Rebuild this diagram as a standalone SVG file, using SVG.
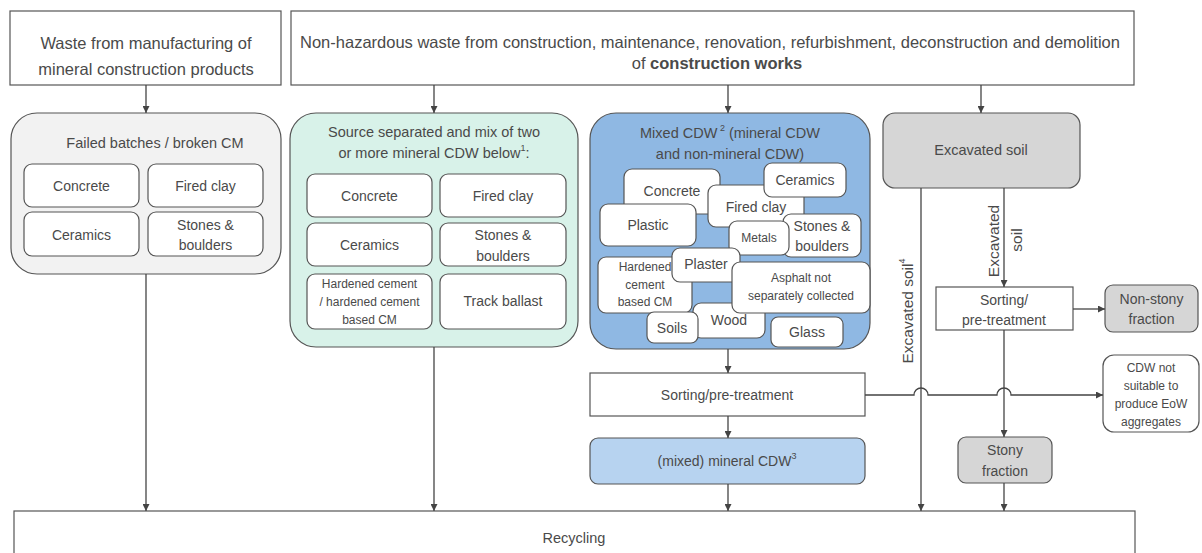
<svg xmlns="http://www.w3.org/2000/svg" width="1202" height="553" viewBox="0 0 1202 553">
<style>
text{font-family:"Liberation Sans",Arial,sans-serif;fill:#4a4a4a;text-anchor:middle;dominant-baseline:central}
.box{fill:#fff;stroke:#555;stroke-width:1.2}
.in{fill:#fff;stroke:#555;stroke-width:1.2}
.t16{font-size:16.5px}
.t15{font-size:14.5px}
.t14{font-size:14px}
.t12{font-size:12px}
.t13{font-size:13px}
.ln{fill:none;stroke:#444;stroke-width:1.3}
</style>
<defs>
<marker id="ah" viewBox="0 0 10 10" refX="10" refY="5" markerWidth="7" markerHeight="7" markerUnits="userSpaceOnUse" orient="auto">
<path d="M0,0 L10,5 L0,10 z" fill="#444"/>
</marker>
</defs>

<g id="src-manufacturing">
<rect class="box" x="10" y="11" width="271" height="74"/>
<text class="t16" x="146" y="43">Waste from manufacturing of</text>
<text class="t16" x="146" y="69">mineral construction products</text>
</g>

<g id="src-construction">
<rect class="box" x="291" y="11" width="843" height="74"/>
<text class="t16" x="710" y="42">Non-hazardous waste from construction, maintenance, renovation, refurbishment, deconstruction and demolition</text>
<text class="t16" x="717" y="63">of <tspan font-weight="bold">construction works</tspan></text>
</g>

<g id="failed-batches">
<rect x="11" y="113" width="270" height="161" rx="26" fill="#f2f2f2" stroke="#555" stroke-width="1.2"/>
<text class="t15" x="155" y="143">Failed batches / broken CM</text>
<rect class="in" x="24" y="164" width="115" height="43" rx="8"/>
<text class="t14" x="81.5" y="186">Concrete</text>
<rect class="in" x="148" y="164" width="115" height="43" rx="8"/>
<text class="t14" x="205.5" y="186">Fired clay</text>
<rect class="in" x="24" y="212" width="115" height="44" rx="8"/>
<text class="t14" x="81.5" y="235">Ceramics</text>
<rect class="in" x="148" y="212" width="115" height="44" rx="8"/>
<text class="t14" x="205.5" y="225">Stones &amp;</text>
<text class="t14" x="205.5" y="245">boulders</text>
</g>

<g id="source-separated">
<rect x="290" y="113" width="288" height="234" rx="26" fill="#d8f2e9" stroke="#555" stroke-width="1.2"/>
<text class="t15" x="434" y="132">Source separated and mix of two</text>
<text class="t15" x="434" y="153">or more mineral CDW below<tspan font-size="9" dy="-5">1</tspan><tspan dy="5">:</tspan></text>
<rect class="in" x="307" y="174" width="125" height="43" rx="8"/>
<text class="t14" x="369.5" y="196">Concrete</text>
<rect class="in" x="440" y="174" width="126" height="43" rx="8"/>
<text class="t14" x="503" y="196">Fired clay</text>
<rect class="in" x="307" y="223" width="125" height="43" rx="8"/>
<text class="t14" x="369.5" y="245">Ceramics</text>
<rect class="in" x="440" y="223" width="126" height="43" rx="8"/>
<text class="t14" x="503" y="235">Stones &amp;</text>
<text class="t14" x="503" y="256">boulders</text>
<rect class="in" x="307" y="274" width="125" height="55" rx="8"/>
<text class="t12" x="369.5" y="284">Hardened cement</text>
<text class="t12" x="369.5" y="302">/ hardened cement</text>
<text class="t12" x="369.5" y="320">based CM</text>
<rect class="in" x="440" y="274" width="126" height="55" rx="8"/>
<text class="t14" x="503" y="301">Track ballast</text>
</g>

<g id="mixed-cdw">
<rect x="590" y="113" width="280" height="236" rx="26" fill="#8fb8e3" stroke="#555" stroke-width="1.2"/>
<text class="t15" x="730" y="133">Mixed CDW<tspan font-size="9" dy="-5"> 2</tspan><tspan dy="5"> (mineral CDW</tspan></text>
<text class="t15" x="730" y="154">and non-mineral CDW)</text>
<rect class="in" x="624" y="169" width="96" height="45" rx="8"/>
<text class="t14" x="672" y="191">Concrete</text>
<rect class="in" x="708" y="185" width="96" height="42" rx="8"/>
<text class="t14" x="756" y="207">Fired clay</text>
<rect class="in" x="764" y="163" width="82" height="34" rx="8"/>
<text class="t14" x="805" y="180">Ceramics</text>
<rect class="in" x="600" y="204" width="96" height="42" rx="8"/>
<text class="t14" x="648" y="225">Plastic</text>
<rect class="in" x="783" y="214" width="78" height="43" rx="8"/>
<text class="t14" x="822" y="226">Stones &amp;</text>
<text class="t14" x="822" y="246">boulders</text>
<rect class="in" x="729" y="221" width="60" height="34" rx="8"/>
<text class="t12" x="759" y="238">Metals</text>
<rect class="in" x="598" y="257" width="94" height="56" rx="8"/>
<text class="t12" x="645" y="267">Hardened</text>
<text class="t12" x="645" y="285">cement</text>
<text class="t12" x="645" y="302">based CM</text>
<rect class="in" x="672" y="248" width="68" height="34" rx="8"/>
<text class="t14" x="706" y="264">Plaster</text>
<rect class="in" x="693" y="303" width="72" height="35" rx="8"/>
<text class="t14" x="729" y="320">Wood</text>
<rect class="in" x="732" y="262" width="138" height="51" rx="8"/>
<text class="t12" x="801" y="278">Asphalt not</text>
<text class="t12" x="801" y="296">separately collected</text>
<rect class="in" x="647" y="312" width="51" height="31" rx="7"/>
<text class="t14" x="672" y="328">Soils</text>
<rect class="in" x="771" y="317" width="72" height="30" rx="7"/>
<text class="t14" x="807" y="332">Glass</text>
</g>

<g id="excavated-soil">
<rect x="883" y="113" width="197" height="75" rx="12" fill="#d6d6d6" stroke="#555" stroke-width="1.2"/>
<text class="t15" x="981" y="150">Excavated soil</text>
</g>

<g id="sorting-mixed">
<rect class="box" x="590" y="373" width="275" height="43"/>
<text class="t14" x="727" y="395">Sorting/pre-treatment</text>
</g>

<g id="mineral-cdw">
<rect x="590" y="438" width="275" height="46" rx="8" fill="#b7d3f0" stroke="#555" stroke-width="1.2"/>
<text class="t14" x="727" y="461">(mixed) mineral CDW<tspan font-size="9" dy="-5">3</tspan></text>
</g>

<g id="sorting-soil">
<rect class="box" x="936" y="287" width="137" height="43"/>
<text class="t14" x="1004" y="300">Sorting/</text>
<text class="t14" x="1004" y="320">pre-treatment</text>
</g>

<g id="non-stony">
<rect x="1105" y="285" width="93" height="47" rx="8" fill="#d6d6d6" stroke="#555" stroke-width="1.2"/>
<text class="t14" x="1151.5" y="299">Non-stony</text>
<text class="t14" x="1151.5" y="319">fraction</text>
</g>

<g id="not-suitable">
<rect class="box" x="1103" y="355" width="96" height="77" rx="11"/>
<text class="t12" x="1151" y="368">CDW not</text>
<text class="t12" x="1151" y="386">suitable to</text>
<text class="t12" x="1151" y="404">produce EoW</text>
<text class="t12" x="1151" y="422">aggregates</text>
</g>

<g id="stony">
<rect x="958" y="437" width="94" height="46" rx="8" fill="#d6d6d6" stroke="#555" stroke-width="1.2"/>
<text class="t14" x="1005" y="450">Stony</text>
<text class="t14" x="1005" y="471">fraction</text>
</g>

<g id="recycling">
<rect class="box" x="14" y="511" width="1121" height="50"/>
<text class="t15" x="574" y="538">Recycling</text>
</g>

<g id="connectors">
<path class="ln" d="M146,85 V113" marker-end="url(#ah)"/>
<path class="ln" d="M434,85 V113" marker-end="url(#ah)"/>
<path class="ln" d="M728,85 V113" marker-end="url(#ah)"/>
<path class="ln" d="M981,85 V113" marker-end="url(#ah)"/>
<path class="ln" d="M146,274 V511" marker-end="url(#ah)"/>
<path class="ln" d="M434,347 V511" marker-end="url(#ah)"/>
<path class="ln" d="M728,349 V373" marker-end="url(#ah)"/>
<path class="ln" d="M728,416 V438" marker-end="url(#ah)"/>
<path class="ln" d="M728,484 V511" marker-end="url(#ah)"/>
<path class="ln" d="M921,188 V511" marker-end="url(#ah)"/>
<path class="ln" d="M1004,188 V287" marker-end="url(#ah)"/>
<path class="ln" d="M1073,309 H1105" marker-end="url(#ah)"/>
<path class="ln" d="M1004,330 V437" marker-end="url(#ah)"/>
<path class="ln" d="M1004,483 V511" marker-end="url(#ah)"/>
<path class="ln" d="M865,395 H914 A7,7 0 0 1 928,395 H997 A7,7 0 0 1 1011,395 H1103" marker-end="url(#ah)"/>
<text font-size="15.5" transform="translate(907,311) rotate(-90)">Excavated soil<tspan font-size="9" dy="-5">4</tspan></text>
<text font-size="15.5" transform="translate(993,241) rotate(-90)">Excavated</text>
<text font-size="15.5" transform="translate(1016,240) rotate(-90)">soil</text>
</g>
</svg>
